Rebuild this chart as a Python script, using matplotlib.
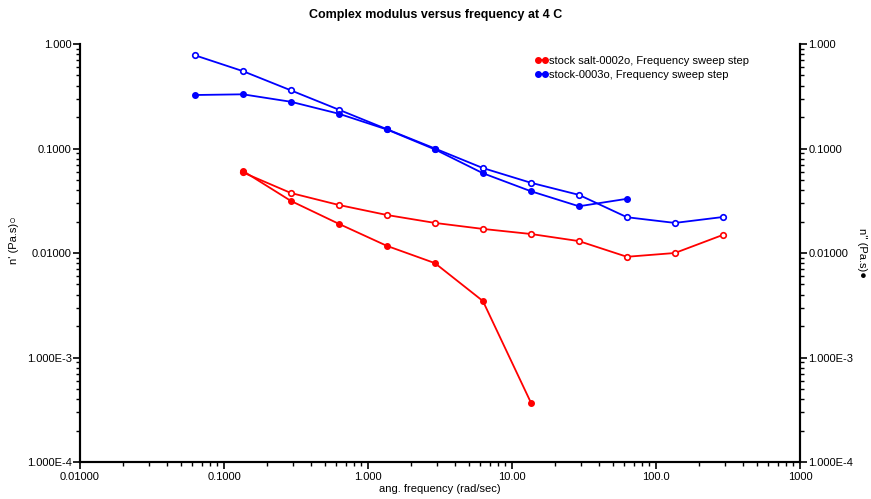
import numpy as np
import matplotlib
matplotlib.use('Agg')
import matplotlib.pyplot as plt
from matplotlib.lines import Line2D
from matplotlib.ticker import FixedLocator, FixedFormatter, LogLocator, NullFormatter

plt.rcParams['font.family'] = ['Liberation Sans', 'DejaVu Sans']

# angular frequency steps (rad/s)
freq = [0.0628, 0.1353, 0.2915, 0.628, 1.353, 2.915, 6.28, 13.53, 29.15, 62.8, 135.3, 291.5]

# stock-0003o
blue_eta1 = [0.78, 0.55, 0.36, 0.235, 0.153, 0.100, 0.065, 0.047, 0.036, 0.022, 0.0194, 0.0221]
blue_eta2 = [0.325, 0.33, 0.28, 0.215, 0.152, 0.098, 0.058, 0.039, 0.028, 0.033]

# stock salt-0002o
red_eta1 = [0.059, 0.0375, 0.0288, 0.0231, 0.0194, 0.0170, 0.0152, 0.0130, 0.0092, 0.0100, 0.0149]
red_eta2 = [0.061, 0.0315, 0.0190, 0.0117, 0.0080, 0.00347, 0.00037]

x_ticks = [0.01, 0.1, 1, 10, 100, 1000]
x_labels = ['0.01000', '0.1000', '1.000', '10.00', '100.0', '1000']
y_ticks = [1e-4, 1e-3, 1e-2, 1e-1, 1]
y_labels = ['1.000E-4', '1.000E-3', '0.01000', '0.1000', '1.000']

fig = plt.figure(figsize=(8.71, 4.99), dpi=100)
ax = fig.add_axes([80/871, 1 - 462/499, 720/871, 418/499])
ax2 = ax.twinx()

lw = 1.3
ms = 4
ax.plot(freq, blue_eta1, color='#0000ff', lw=lw, marker='o', ms=ms, mfc='white', mew=1.2)
ax.plot(freq[1:], red_eta1, color='#ff0000', lw=lw, marker='o', ms=ms, mfc='white', mew=1.2)
ax2.plot(freq[:len(blue_eta2)], blue_eta2, color='#0000ff', lw=lw, marker='o', ms=ms)
ax2.plot(freq[1:1 + len(red_eta2)], red_eta2, color='#ff0000', lw=lw, marker='o', ms=ms)

for a in (ax, ax2):
    a.set_xscale('log')
    a.set_yscale('log')
    a.set_xlim(0.01, 1000)
    a.set_ylim(1e-4, 1)
    a.spines['top'].set_visible(False)
    for s in a.spines.values():
        s.set_linewidth(1.5)
    a.yaxis.set_major_locator(FixedLocator(y_ticks))
    a.yaxis.set_major_formatter(FixedFormatter(y_labels))
    a.yaxis.set_minor_locator(LogLocator(base=10, subs=np.arange(2, 10)))
    a.yaxis.set_minor_formatter(NullFormatter())
    a.tick_params(which='major', length=5, width=1.2, labelsize=8, pad=1)
    a.tick_params(which='minor', length=3, width=1.0)

ax.xaxis.set_major_locator(FixedLocator(x_ticks))
ax.xaxis.set_major_formatter(FixedFormatter(x_labels))
ax.xaxis.set_minor_locator(LogLocator(base=10, subs=np.arange(2, 10)))
ax.xaxis.set_minor_formatter(NullFormatter())
ax.tick_params(axis='x', which='major', length=5, labelsize=8, pad=2)

ax.set_xlabel('ang. frequency (rad/sec)', fontsize=8, labelpad=2)
ax.set_ylabel("n' (Pa.s)\u25cb", fontsize=8, va='center',
              family=['Liberation Sans', 'DejaVu Sans'])
ax.yaxis.set_label_coords(-0.092, 0.53)
ax2.set_ylabel("n'' (Pa.s)\u25cf", fontsize=8, rotation=270, va='center',
               family=['Liberation Sans', 'DejaVu Sans'])
ax2.yaxis.set_label_coords(1.086, 0.5)

fig.suptitle('Complex modulus versus frequency at 4 C', fontsize=9, fontweight='bold',
             y=1 - 15/499, va='center')

handles = [Line2D([], [], color='#ff0000', lw=lw, marker='o', ms=ms),
           Line2D([], [], color='#0000ff', lw=lw, marker='o', ms=ms)]
ax2.legend(handles, ['stock salt-0002o, Frequency sweep step', 'stock-0003o, Frequency sweep step'],
           loc='upper left', bbox_to_anchor=(455/720, 1 - 12/418), frameon=False, fontsize=8,
           numpoints=2, handlelength=1.2, handletextpad=0.1, labelspacing=0.35,
           borderaxespad=0, borderpad=0)

fig.savefig('out.png', dpi=100)
